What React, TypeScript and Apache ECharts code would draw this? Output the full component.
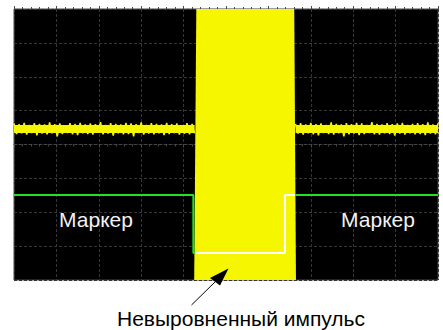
import React, { useEffect, useRef } from "react";
import * as echarts from "echarts";

// Axis ranges (10 x 8 divisions, oscilloscope screen)
const xTicks = [0, 100, 200, 300, 400, 500, 600, 700, 800, 900, 1000];
const yTicks = [-4, -3, -2, -1, 0, 1, 2, 3, 4];

// Yellow channel: noisy baseline level and hand-read noise envelope samples
const yellowLevel = 0.46;
const yellowLeftStart = 0;
const yellowRightStart = 664;
const yellowStep = 6;
const yellowNoiseLeft = [
  0.62, 0.31, 0.6, 0.33, 0.64, 0.29, 0.58, 0.34, 0.63, 0.27, 0.61, 0.32, 0.59, 0.3, 0.65, 0.33, 0.6, 0.24, 0.62, 0.31,
  0.57, 0.34, 0.63, 0.3, 0.61, 0.28, 0.64, 0.33, 0.59, 0.31, 0.62, 0.29, 0.6, 0.35, 0.66, 0.3, 0.58, 0.32, 0.63, 0.26,
  0.61, 0.33, 0.59, 0.3, 0.64, 0.31, 0.62, 0.24, 0.6, 0.34, 0.65, 0.29, 0.58, 0.32, 0.63, 0.3, 0.61, 0.33, 0.59, 0.28,
  0.64, 0.31, 0.6, 0.34, 0.62, 0.29, 0.57, 0.32, 0.63, 0.3, 0.61, 0.33,
];
const yellowNoiseRight = [
  0.61, 0.32, 0.63, 0.29, 0.59, 0.33, 0.64, 0.3, 0.6, 0.27, 0.62, 0.34, 0.58, 0.31, 0.65, 0.29, 0.61, 0.33, 0.59, 0.24,
  0.63, 0.3, 0.6, 0.32, 0.64, 0.28, 0.62, 0.31, 0.58, 0.34, 0.66, 0.3, 0.61, 0.29, 0.59, 0.33, 0.63, 0.31, 0.6, 0.26,
  0.62, 0.32, 0.64, 0.29, 0.58, 0.33, 0.61, 0.3, 0.63, 0.31, 0.6, 0.28, 0.65, 0.32, 0.59, 0.3, 0.62,
];
// Yellow RF burst (filled block), corners [x, y]
const yellowBurst = [
  [425, -4],
  [430, 4],
  [661, 4],
  [665, -4],
];

// Marker channel
const markerHigh = -1.49;
const markerLow = -3.2;
const markerGreenLeft = [
  [0, markerHigh],
  [423, markerHigh],
  [423, markerLow],
  [428, markerLow],
];
const markerWhite = [
  [428, markerLow],
  [639, markerLow],
  [639, markerHigh],
  [663, markerHigh],
];
const markerGreenRight = [
  [663, markerHigh],
  [1000, markerHigh],
];

const markerLabel = "Маркер";
const annotationLabel = "Невыровненный импульс";

const YELLOW = "#f6f600";
const GREEN = "#22e022";
const GRID = "#363636";
const FONT = "Liberation Sans, Arial, sans-serif";

export default function App() {
  const ref = useRef<HTMLDivElement>(null);

  useEffect(() => {
    if (!ref.current) return;
    const chart = echarts.init(ref.current, undefined, { renderer: "svg" });

    const leftPts = yellowNoiseLeft.map((v, i) => [yellowLeftStart + i * yellowStep, v]);
    const rightPts = yellowNoiseRight.map((v, i) => [yellowRightStart + i * yellowStep, v]);

    const xAxisBase = {
      type: "value" as const,
      min: xTicks[0],
      max: xTicks[xTicks.length - 1],
      interval: xTicks[1] - xTicks[0],
      axisLabel: { show: false },
    };

    const option: any = {
      animation: false,
      backgroundColor: "#ffffff",
      grid: {
        left: 14,
        top: 9,
        width: 424,
        height: 271,
        show: true,
        backgroundColor: "#000000",
        borderColor: "#444444",
        borderWidth: 1,
      },
      xAxis: [
        {
          ...xAxisBase,
          position: "bottom",
          axisLine: { show: true, onZero: true, lineStyle: { color: "#444444", type: [3, 2] } },
          axisTick: { show: true, length: 3, lineStyle: { color: "#4a4a4a" } },
          minorTick: { show: true, splitNumber: 5, length: 2, lineStyle: { color: "#4a4a4a" } },
          splitLine: { show: true, lineStyle: { color: GRID, type: [3, 2], width: 1 } },
        },
        {
          ...xAxisBase,
          position: "top",
          axisLine: { show: false, onZero: true },
          axisTick: { show: true, length: 3, lineStyle: { color: "#4a4a4a" } },
          minorTick: { show: true, splitNumber: 5, length: 2, lineStyle: { color: "#4a4a4a" } },
          splitLine: { show: false },
        },
      ],
      yAxis: {
        type: "value",
        min: yTicks[0],
        max: yTicks[yTicks.length - 1],
        interval: yTicks[1] - yTicks[0],
        axisLabel: { show: false },
        axisLine: { show: false },
        axisTick: { show: false },
        splitLine: { show: true, lineStyle: { color: GRID, type: [3, 2], width: 1 } },
      },
      series: [
        {
          type: "line",
          data: [
            [leftPts[0][0], yellowLevel],
            [leftPts[leftPts.length - 1][0], yellowLevel],
          ],
          symbol: "none",
          lineStyle: { color: YELLOW, width: 8 },
        },
        {
          type: "line",
          data: [
            [rightPts[0][0], yellowLevel],
            [rightPts[rightPts.length - 1][0], yellowLevel],
          ],
          symbol: "none",
          lineStyle: { color: YELLOW, width: 8 },
        },
        {
          type: "line",
          data: leftPts,
          symbol: "none",
          lineStyle: { color: YELLOW, width: 1.5 },
        },
        {
          type: "line",
          data: rightPts,
          symbol: "none",
          lineStyle: { color: YELLOW, width: 1.5 },
        },
        {
          type: "custom",
          data: [0],
          renderItem: (_params: any, api: any) => {
            const pts = yellowBurst.map((p) => api.coord(p));
            return {
              type: "polygon",
              shape: { points: pts },
              style: { fill: YELLOW, stroke: "none" },
            };
          },
        },
        {
          type: "line",
          data: markerGreenLeft,
          symbol: "none",
          lineStyle: { color: GREEN, width: 2 },
        },
        {
          type: "line",
          data: markerWhite,
          symbol: "none",
          lineStyle: { color: "#ffffff", width: 2 },
        },
        {
          type: "line",
          data: markerGreenRight,
          symbol: "none",
          lineStyle: { color: GREEN, width: 2 },
        },
      ],
      graphic: [
        {
          type: "text",
          x: 96,
          y: 219,
          style: {
            text: markerLabel,
            fill: "#f2f2f2",
            fontSize: 21,
            fontFamily: FONT,
            align: "center",
            verticalAlign: "middle",
          },
          z: 100,
        },
        {
          type: "text",
          x: 378,
          y: 219,
          style: {
            text: markerLabel,
            fill: "#f2f2f2",
            fontSize: 21,
            fontFamily: FONT,
            align: "center",
            verticalAlign: "middle",
          },
          z: 100,
        },
        {
          type: "text",
          x: 241,
          y: 318,
          style: {
            text: annotationLabel,
            fill: "#000000",
            fontSize: 21,
            fontFamily: FONT,
            align: "center",
            verticalAlign: "middle",
          },
          z: 100,
        },
        {
          type: "line",
          shape: { x1: 191.5, y1: 305, x2: 216, y2: 281 },
          style: { stroke: "#000000", lineWidth: 1 },
          z: 100,
        },
        {
          type: "polygon",
          shape: {
            points: [
              [228.5, 268.5],
              [210, 278],
              [220, 285.5],
            ],
          },
          style: { fill: "#000000" },
          z: 100,
        },
      ],
    };

    chart.setOption(option);
    return () => chart.dispose();
  }, []);

  return (
    <div
      ref={ref}
      style={{ position: "fixed", left: 0, top: 0, width: 443, height: 330 }}
    />
  );
}
